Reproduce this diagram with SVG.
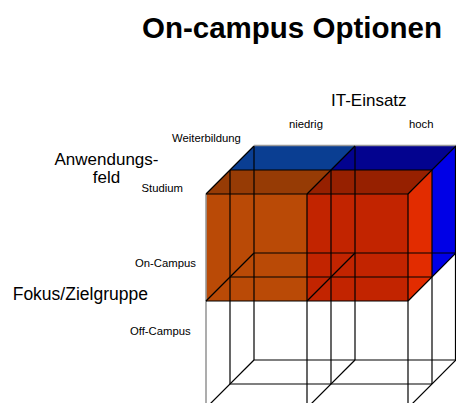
<svg xmlns="http://www.w3.org/2000/svg" width="456" height="403" viewBox="0 0 456 403">
<style>
text{font-family:"Liberation Sans",Arial,sans-serif;fill:#000}
.t{font-size:29.5px;font-weight:bold}
.m{font-size:17px}
.s{font-size:11.3px}
.ln line{stroke:#000;stroke-width:1.2;fill:none}
line.g{stroke:#999;stroke-width:1.6}
</style>
<rect width="456" height="403" fill="#fff"/>
<g id="title"><text class="t" x="142" y="38">On-campus Optionen</text></g>
<g id="labels">
<text class="m" x="331" y="105.5">IT-Einsatz</text>
<text class="s" x="289" y="128">niedrig</text>
<text class="s" x="409" y="128">hoch</text>
<text class="s" x="172" y="142">Weiterbildung</text>
<text class="m" x="106.5" y="165" text-anchor="middle">Anwendungs-</text>
<text class="m" x="106.5" y="183" text-anchor="middle">feld</text>
<text class="s" x="141.5" y="191.5">Studium</text>
<text class="s" x="135" y="266.5">On-Campus</text>
<text class="m" x="12.7" y="300" style="font-size:17.5px">Fokus/Zielgruppe</text>
<text class="s" x="130" y="335">Off-Campus</text>
</g>
<g id="weiterbildung-box">
<polygon points="230,170 254,146 355,146 331,170" fill="#0A3E92"/>
<polygon points="331,170 355,146 456,146 432,170" fill="#03038F"/>
<polygon points="432,170 456,146 456,253 432,277" fill="#0000E6"/>
</g>
<g id="studium-box">
<polygon points="206,194 230,170 331,170 307,194" fill="#963B05"/>
<polygon points="307,194 331,170 432,170 408,194" fill="#962000"/>
<polygon points="408,194 432,170 432,277 408,301" fill="#E22C00"/>
<rect x="206" y="194" width="101" height="107" fill="#BA4A06"/>
<rect x="307" y="194" width="101" height="107" fill="#C22400"/>
</g>
<g id="connectors" class="ln">
<line x1="230" y1="170" x2="230" y2="384"/>
<line x1="331" y1="170" x2="331" y2="384"/>
<line x1="432" y1="170" x2="432" y2="384"/>
<line x1="230" y1="170" x2="432" y2="170"/>
<line x1="230" y1="277" x2="432" y2="277"/>
<line x1="230" y1="384" x2="432" y2="384"/>
<line x1="254" y1="146" x2="254" y2="360"/>
<line x1="355" y1="146" x2="355" y2="360"/>
<line x1="455.5" y1="146" x2="455.5" y2="360"/>
<line x1="254" y1="253" x2="456" y2="253"/>
<line x1="254" y1="360" x2="456" y2="360"/>
<line class="g" x1="254" y1="145.5" x2="456" y2="145.5"/>
<line class="g" x1="206" y1="194" x2="206" y2="408"/>
<line x1="307" y1="194" x2="307" y2="408"/>
<line x1="408" y1="194" x2="408" y2="408"/>
<line x1="206" y1="194" x2="408" y2="194"/>
<line x1="206" y1="301" x2="408" y2="301"/>
<line x1="206" y1="194" x2="254" y2="146"/>
<line x1="307" y1="194" x2="355" y2="146"/>
<line x1="408" y1="194" x2="456" y2="146"/>
<line x1="206" y1="301" x2="254" y2="253"/>
<line x1="307" y1="301" x2="355" y2="253"/>
<line x1="408" y1="301" x2="456" y2="253"/>
<line x1="206" y1="408" x2="254" y2="360"/>
<line x1="307" y1="408" x2="355" y2="360"/>
<line x1="408" y1="408" x2="456" y2="360"/>
</g>
</svg>
